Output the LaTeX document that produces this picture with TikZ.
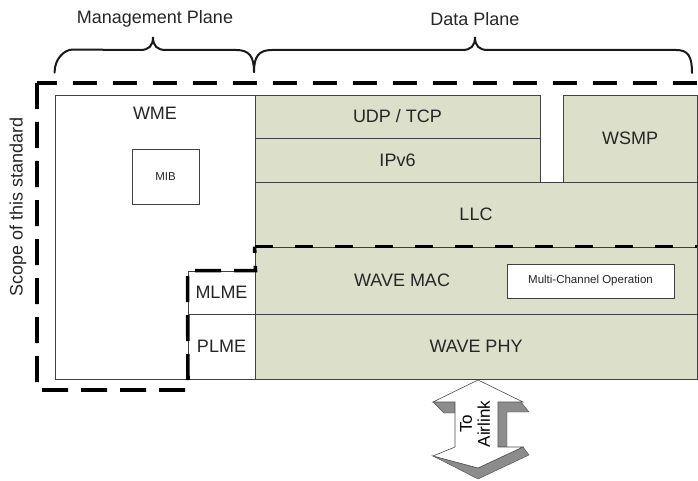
\documentclass[tikz,border=0pt]{standalone}
\usepackage{fontspec}
\setmainfont{Liberation Sans}
\begin{document}
\begin{tikzpicture}[x=1pt,y=-1pt,
  box/.style={draw=black!75,line width=0.9pt,inner sep=0pt,anchor=center},
  green/.style={box,fill=layerfill},
  white/.style={box,fill=white},
  lbl/.style={text=black!85,inner sep=0pt,font=\fontsize{18}{21}\selectfont},
  small/.style={text=black!85,inner sep=0pt,font=\fontsize{11.5}{13}\selectfont},
  scope/.style={line width=3.6pt,dash pattern=on 24pt off 16pt},
  brace/.style={line width=2pt,black!90,line cap=round}]
\definecolor{layerfill}{HTML}{DCDFCA}
\useasboundingbox (0,0) rectangle (698,481);
% boxes
\node[white,minimum width=200pt,minimum height=284pt] (wme) at (155,237) {};
\node[green,minimum width=285pt,minimum height=43pt] (udp) at (397.5,116.5) {};
\node[green,minimum width=285pt,minimum height=44pt] (ipv6) at (397.5,160) {};
\node[green,minimum width=134pt,minimum height=87pt] (wsmp) at (630,138.5) {};
\node[green,minimum width=442pt,minimum height=65pt] (llc) at (476,214.5) {};
\node[green,minimum width=442pt,minimum height=67pt] (mac) at (476,280.5) {};
\node[green,minimum width=442pt,minimum height=65pt] (phy) at (476,346.5) {};
\node[white,minimum width=67pt,minimum height=43pt] (mlme) at (221.5,292.5) {};
\node[white,minimum width=67pt,minimum height=65pt] (plme) at (221.5,346.5) {};
\node[white,minimum width=67pt,minimum height=55pt] (mib) at (165.5,176.5) {};
\node[white,minimum width=167pt,minimum height=34pt] (mco) at (590.5,281) {};
% texts
\node[lbl] (twme) at (155,113) {WME};
\node[small] (tmib) at (mib.center) {MIB};
\node[lbl] (tudp) at (udp.center) {UDP / TCP};
\node[lbl] (tipv6) at (ipv6.center) {IPv6};
\node[lbl] (twsmp) at (wsmp.center) {WSMP};
\node[lbl] (tllc) at (llc.center) {LLC};
\node[lbl] (tmac) at (402,280.5) {WAVE MAC};
\node[lbl] (tphy) at (phy.center) {WAVE PHY};
\node[lbl] (tmlme) at (mlme.center) {MLME};
\node[lbl] (tplme) at (plme.center) {PLME};
\node[small] (tmco) at (mco.center) {Multi-Channel Operation};
\node[lbl] (tmgmt) at (155,19) {Management Plane};
\node[lbl] (tdata) at (475,19) {Data Plane};
\node[lbl,rotate=90] (tscope) at (18,207) {Scope of this standard};
% scope outline
\coordinate (s1) at (697,83);
\coordinate (s2) at (37,83);
\coordinate (s3) at (37,390);
\coordinate (s4) at (188,390);
\draw[scope] (s1) -- (s2);
\draw[scope,dash pattern=on 26pt off 13pt] (s2) -- (s3) -- (s4) -- (mlme.north west) -- (mlme.north east) -- (mac.north west);
\draw[scope,dash pattern=on 18pt off 22pt] (mac.north west) -- (mac.north east);
% braces
\draw[brace] (wme.north west) ++(0,-22) .. controls +(0,-14) and +(-8,0) .. ++(18,-23) -- (140,50)
  .. controls (149,50) and (153,46) .. (153,37) .. controls (153,46) and (157,50) .. (166,50)
  -- (236,50) .. controls (249,50) and (254,56) .. (254,72);
\draw[brace] (254,72) .. controls (254,56) and (259,50) .. (272,50) -- (462,50)
  .. controls (471,50) and (475,46) .. (475,37) .. controls (475,46) and (479,50) .. (488,50)
  -- (676,50) .. controls (688,50) and (692,56) .. (692,73);
% arrow to airlink
\fill[black!45,draw=black!70,line width=0.4pt] (433,402) -- (455,402) -- (455,413) -- (444,413) -- cycle;
\fill[black!45,draw=black!70,line width=0.4pt] (498,402) -- (521,402) -- (529,412) -- (507,412) -- (507,447) -- (498,447) -- cycle;
\fill[black!45,draw=black!70,line width=0.4pt] (433,456) -- (478,479) -- (529,455) -- (523,447) -- (478,468) -- cycle;
\draw[fill=white,draw=black!70,line width=0.6pt] (478,380) -- (523,402) -- (498,402) -- (498,447) -- (523,447) -- (478,468) -- (433,456) -- (455,447) -- (455,402) -- (433,402) -- cycle;
\node[text=black,inner sep=0pt,rotate=90,align=center,font=\fontsize{17}{18}\selectfont] (tair) at (475,424) {To\\Airlink};
\end{tikzpicture}
\end{document}
